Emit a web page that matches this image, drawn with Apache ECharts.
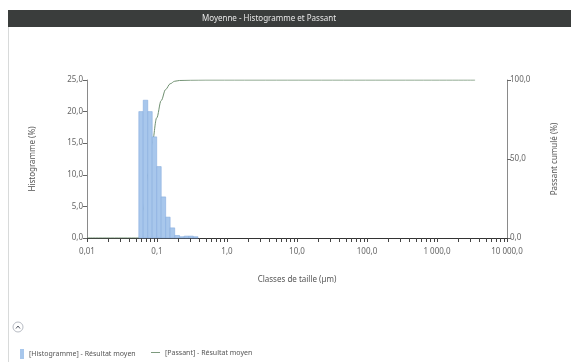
<!DOCTYPE html>
<html>
<head>
<meta charset="utf-8">
<script src="https://cdn.jsdelivr.net/npm/echarts@6/dist/echarts.min.js"></script>
<style>
  html, body { margin: 0; padding: 0; background: #ffffff; }
  #chart { width: 571px; height: 362px; }
</style>
</head>
<body>
<div id="chart"></div>
<script>
// Particle size classes (µm): lower and upper edge of each histogram bin
const binLow  = [0.0550, 0.0636, 0.0738, 0.0854, 0.0990, 0.1148, 0.1330, 0.1540, 0.1790, 0.2100, 0.2450, 0.2850, 0.3300];
const binHigh = [0.0636, 0.0738, 0.0854, 0.0990, 0.1148, 0.1330, 0.1540, 0.1790, 0.2100, 0.2450, 0.2850, 0.3300, 0.3850];
// Histogram (%) per class
const histValues = [20.0, 21.8, 20.0, 16.0, 11.3, 6.5, 3.3, 1.6, 0.4, 0.2, 0.3, 0.3, 0.2];

// Cumulative passing (%) against size (µm)
const passSizes  = [0.01, 0.055, 0.0636, 0.0738, 0.0854, 0.099, 0.1148, 0.133, 0.154, 0.179, 0.21, 0.30, 0.50, 3500];
const passValues = [0,    0,     18,     40,     60,     76,    87,     94,    97.6,  99.2,  99.7, 99.9, 100,  100];

// Axis ticks
const decades = [0.01, 0.1, 1, 10, 100, 1000, 10000];
const decadeLabels = ['0,01', '0,1', '1,0', '10,0', '100,0', '1 000,0', '10 000,0'];
const leftTicks = [0, 5, 10, 15, 20, 25];
const rightTicks = [0, 50, 100];

// Log-spaced ticks on the size axis (1..9 per decade)
const sizeTicks = [];
decades.forEach(function (d, i) {
  sizeTicks.push(d);
  if (i < decades.length - 1) {
    for (let k = 2; k <= 9; k++) sizeTicks.push(+(d * k).toPrecision(6));
  }
});

const histData = binLow.map(function (lo, i) { return [lo, binHigh[i], histValues[i]]; });
const passData = passSizes.map(function (s, i) { return [s, passValues[i]]; });
const tickData = sizeTicks.map(function (v) { return [v, 0]; });

const fmt1 = function (v) { return v.toFixed(1).replace('.', ','); };
const FONT = 'Noto Sans';
const LABEL = '#666666';

const chart = echarts.init(document.getElementById('chart'), null, { renderer: 'canvas' });

chart.setOption({
  animation: false,
  backgroundColor: '#ffffff',
  textStyle: { fontFamily: FONT },
  grid: { left: 87, right: 64, top: 80, bottom: 124 },
  graphic: [
    { type: 'rect', shape: { x: 8.5, y: 10.5, width: 570, height: 360 },
      style: { fill: 'none', stroke: '#d8dada', lineWidth: 1 }, silent: true },
    { type: 'rect', shape: { x: 8, y: 10, width: 563, height: 17 },
      style: { fill: '#3a3d3c' }, silent: true },
    { type: 'text', x: 269, y: 18.5,
      style: { text: 'Moyenne - Histogramme et Passant', fill: '#e8e8e8',
               font: '8px "Noto Sans"', textAlign: 'center', textVerticalAlign: 'middle' } },
    { type: 'circle', shape: { cx: 18, cy: 327, r: 5 },
      style: { fill: '#ffffff', stroke: '#b8bcc4', lineWidth: 1 } },
    { type: 'polyline', shape: { points: [[16, 328.5], [18, 326], [20, 328.5]] },
      style: { stroke: '#555a66', lineWidth: 1, fill: 'none' } }
  ],
  legend: [
    { left: 15, top: 344, itemWidth: 4, itemHeight: 10, itemGap: 10,
      textStyle: { fontSize: 7, color: '#555555', fontFamily: FONT },
      data: [{ name: '[Histogramme] - Résultat moyen', icon: 'rect' }] },
    { left: 146, top: 344, itemWidth: 9, itemHeight: 10,
      textStyle: { fontSize: 7, color: '#555555', fontFamily: FONT },
      data: [{ name: '[Passant] - Résultat moyen', icon: 'path://M0,5 L10,5 L10,6 L0,6 Z' }] }
  ],
  xAxis: {
    type: 'log', logBase: 10, min: 0.01, max: 10000,
    name: 'Classes de taille (µm)', nameLocation: 'middle', nameGap: 38,
    nameTextStyle: { fontSize: 8, color: '#555555' },
    axisLine: { show: true, onZero: false, lineStyle: { color: '#333333', width: 1 } },
    axisTick: { show: false },
    axisLabel: { customValues: decades, fontSize: 8, color: LABEL, margin: 10,
      formatter: function (v) { return decadeLabels[Math.round(Math.log10(v)) + 2]; } },
    splitLine: { show: false }
  },
  yAxis: [
    { type: 'value', min: 0, max: 25, interval: 5, position: 'left',
      name: 'Histogramme (%)', nameLocation: 'middle', nameGap: 50, nameRotate: 90,
      nameTextStyle: { fontSize: 8, color: '#555555' },
      axisLine: { show: true, onZero: false, lineStyle: { color: '#8a8a8a' } },
      axisTick: { show: true, length: 4, lineStyle: { color: '#666666' } },
      axisLabel: { fontSize: 8, color: LABEL, margin: 4, formatter: fmt1,
                   customValues: leftTicks },
      splitLine: { show: false } },
    { type: 'value', min: 0, max: 100, interval: 50, position: 'right',
      name: 'Passant cumulé (%)', nameLocation: 'middle', nameGap: 44, nameRotate: 90,
      nameTextStyle: { fontSize: 8, color: '#555555' },
      axisLine: { show: true, onZero: false, lineStyle: { color: '#8a8a8a' } },
      axisTick: { show: true, length: 4, lineStyle: { color: '#666666' } },
      axisLabel: { fontSize: 8, color: LABEL, margin: 3, formatter: fmt1,
                   customValues: rightTicks },
      splitLine: { show: false } }
  ],
  series: [
    { name: '[Passant] - Résultat moyen', type: 'line', yAxisIndex: 1, z: 1,
      data: passData, showSymbol: false, smooth: 0.35, smoothMonotone: 'x',
      lineStyle: { color: '#6f8f70', width: 1 }, itemStyle: { color: '#6f8f70' } },
    { name: '[Histogramme] - Résultat moyen', type: 'custom', yAxisIndex: 0, z: 2,
      itemStyle: { color: '#a8c7ec' },
      encode: { x: [0, 1], y: 2 },
      data: histData,
      renderItem: function (params, api) {
        const p0 = api.coord([api.value(0), api.value(2)]);
        const p1 = api.coord([api.value(1), 0]);
        return {
          type: 'rect',
          shape: { x: p0[0], y: p0[1], width: p1[0] - p0[0], height: p1[1] - p0[1] },
          style: { fill: '#a8c7ec', stroke: '#86addf', lineWidth: 0.6 }
        };
      } },
    // short tick marks under the size axis, one per log step
    { name: 'ticks', type: 'custom', yAxisIndex: 0, z: 3, clip: false, silent: true,
      encode: { x: 0, y: 1 },
      data: tickData,
      renderItem: function (params, api) {
        const p = api.coord([api.value(0), 0]);
        const x = Math.round(p[0]) + 0.5;
        return {
          type: 'line',
          shape: { x1: x, y1: p[1], x2: x, y2: p[1] + 4 },
          style: { stroke: '#444444', lineWidth: 1 }
        };
      } }
  ]
});
</script>
</body>
</html>
